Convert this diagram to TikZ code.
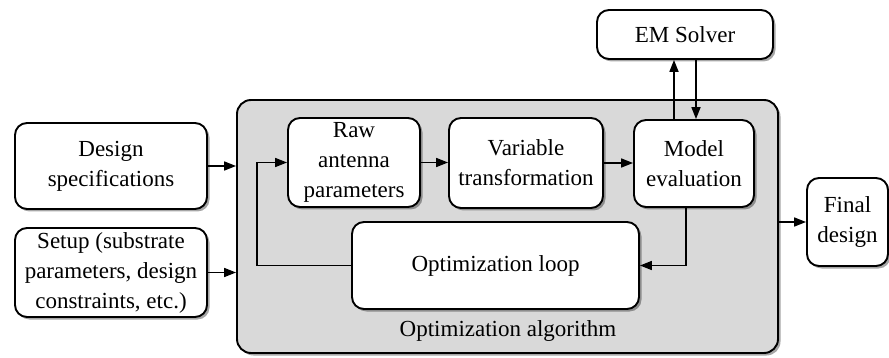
\documentclass[tikz,border=0pt]{standalone}
\usepackage{fontspec}
\setmainfont{Liberation Serif}
\usetikzlibrary{shadows,arrows.meta}
\definecolor{algfill}{HTML}{D9D9D9}
\begin{document}
\begin{tikzpicture}[x=1pt,y=-1pt,
  box/.style={draw=black, line width=1.9pt, rounded corners=12pt, fill=white,
    align=center, inner sep=0pt, font=\fontsize{23}{30}\selectfont,
    drop shadow={shadow xshift=2.5pt, shadow yshift=-2.5pt, opacity=0.35, fill=black}},
  lbl/.style={inner sep=0pt, font=\fontsize{23}{30}\selectfont},
  arr/.style={line width=1.7pt, -{Triangle[length=12pt,width=9pt]}}]
\useasboundingbox (0,0) rectangle (889,358);
\node[box, fill=algfill, rounded corners=14pt, minimum width=541pt, minimum height=253pt] (alg) at (507.5,226.5) {};
\node[lbl] (alglabel) at (508,331) {Optimization algorithm};
\node[box, minimum width=192pt, minimum height=86pt] (design) at (111,166) {Design\\specifications};
\node[box, minimum width=192pt, minimum height=89pt] (setup) at (111,272.5) {Setup (substrate\\parameters, design\\constraints, etc.)};
\node[box, minimum width=132pt, minimum height=89pt] (raw) at (354,162.5) {Raw\\antenna\\parameters};
\node[box, minimum width=154pt, minimum height=90pt] (var) at (526,163) {Variable\\transformation};
\node[box, minimum width=120pt, minimum height=87pt] (model) at (694,163.5) {Model\\evaluation};
\node[box, minimum width=176pt, minimum height=49pt] (em) at (685,34.5) {EM Solver};
\node[box, minimum width=287pt, minimum height=87pt] (loop) at (495.5,265.5) {Optimization loop};
\node[box, minimum width=81pt, minimum height=88pt] (final) at (847.5,222) {Final\\design};
\draw[arr] (design.east) -- (design.east -| alg.west);
\draw[arr] (setup.east) -- (setup.east -| alg.west);
\draw[arr] (raw.east) -- (raw.east -| var.west);
\draw[arr] (var.east) -- (var.east -| model.west);
\draw[arr] ([xshift=-20pt]model.north) -- ([xshift=-20pt]model.north |- em.south);
\draw[arr] ([xshift=2pt]model.north |- em.south) -- ([xshift=2pt]model.north);
\draw[arr] ([xshift=-8pt]model.south) |- (loop.east);
\draw[arr] (loop.west) -- ++(-94,0) |- (raw.west);
\draw[arr] (final.west -| alg.east) -- (final.west);
\end{tikzpicture}
\end{document}
